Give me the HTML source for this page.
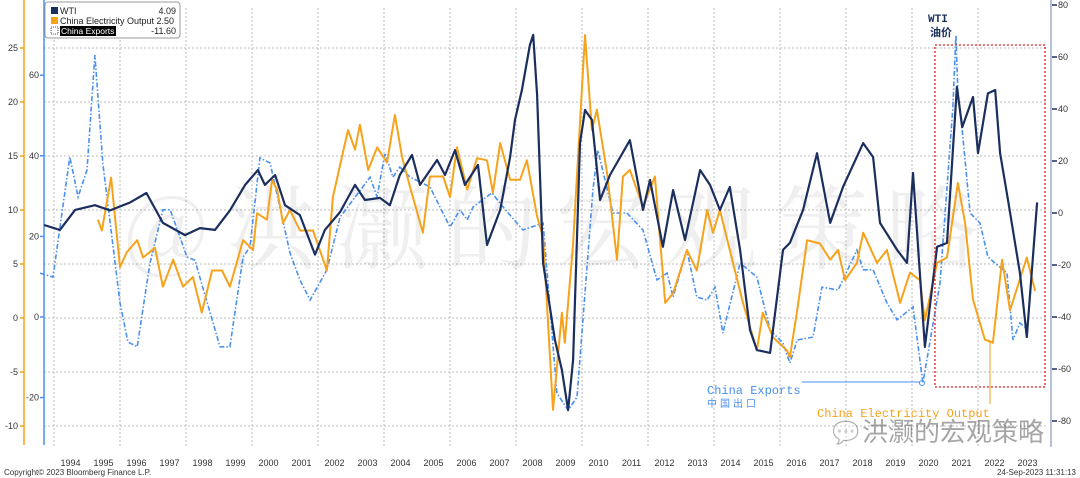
<!DOCTYPE html>
<html><head><meta charset="utf-8"><style>
body{margin:0;background:#fff;}
svg{display:block;font-family:"Liberation Sans","Noto Sans CJK SC",sans-serif;}
</style></head><body>
<svg id="c" width="1080" height="478" viewBox="0 0 1080 478">
<g id="grid"></g>
<text x="560" y="262" text-anchor="middle" font-size="92" fill="#000" opacity="0.06" font-family="'Noto Serif CJK SC',serif" letter-spacing="18">@洪灏的宏观策略</text>
<g id="axes"></g>
<g id="series"></g>
<rect x="935" y="45" width="110" height="342" fill="none" stroke="#e02020" stroke-width="1.3" stroke-dasharray="2,2"/>
<text x="928" y="22" font-size="11" font-weight="bold" fill="#1b2f5e" font-family="'Liberation Mono',monospace">WTI</text>
<text x="930" y="36" font-size="11" font-weight="bold" fill="#1b2f5e" font-family="'Noto Sans CJK SC',sans-serif">油价</text>
<line x1="802" y1="382" x2="920" y2="382" stroke="#4a90f0" stroke-width="1"/>
<circle cx="922" cy="383" r="2.5" fill="none" stroke="#4a90f0"/>
<text x="707" y="394" font-size="12" fill="#4a90f0" font-family="'Liberation Mono',monospace">China Exports</text>
<text x="707" y="407" font-size="10" fill="#4a90f0" font-family="'Noto Sans CJK SC',sans-serif" letter-spacing="3">中国出口</text>
<line x1="990" y1="340" x2="990" y2="404" stroke="#f7a21b" stroke-width="1"/>
<text x="817" y="417" font-size="12" fill="#f7a21b" font-family="'Liberation Mono',monospace">China Electricity Output</text>
<text x="862" y="441" font-size="26" fill="#000" opacity="0.35" font-family="'Noto Sans CJK SC',sans-serif">洪灏的宏观策略</text>
<text x="832" y="440" font-size="22" fill="#000" opacity="0.3">💬</text>
<g>
<rect x="45" y="2" width="135" height="36" rx="3" fill="#fff" stroke="#999"/>
<rect x="51" y="7" width="7" height="7" fill="#1b2f5e"/>
<text x="60" y="14" font-size="9" fill="#222">WTI</text>
<text x="176" y="14" font-size="9" fill="#222" text-anchor="end">4.09</text>
<rect x="51" y="17" width="7" height="7" fill="#f7a21b"/>
<text x="60" y="24" font-size="9" fill="#222">China Electricity Output 2.50</text>
<rect x="51" y="27" width="7" height="7" fill="#fff" stroke="#555" stroke-dasharray="1,1"/>
<rect x="60" y="26" width="56" height="10" fill="#000"/>
<text x="61" y="34" font-size="8.5" fill="#fff">China Exports</text>
<text x="176" y="34" font-size="9" fill="#222" text-anchor="end">-11.60</text>
</g>
<text x="4" y="475" font-size="8" fill="#333">Copyright© 2023 Bloomberg Finance L.P.</text>
<text x="1076" y="475" font-size="8" fill="#333" text-anchor="end">24-Sep-2023 11:31:13</text>
</svg>
<script>
const years=[1994,1995,1996,1997,1998,1999,2000,2001,2002,2003,2004,2005,2006,2007,2008,2009,2010,2011,2012,2013,2014,2015,2016,2017,2018,2019,2020,2021,2022,2023];
const leftTicks=[25,20,15,10,5,0,-5,-10];
const blueTicks=[60,40,20,0,-20];
const rightTicks=[80,60,40,20,0,-20,-40,-60,-80];
const wtiDates=[1993.7,1994.18,1994.64,1995.24,1995.7,1996.3,1996.8,1997.3,1997.97,1998.42,1998.88,1999.33,1999.79,2000.18,2000.39,2000.7,2001.0,2001.45,2001.91,2002.21,2002.67,2003.12,2003.42,2003.88,2004.18,2004.48,2004.85,2005.09,2005.61,2005.85,2006.15,2006.45,2006.85,2007.12,2007.52,2007.82,2007.97,2008.18,2008.42,2008.52,2008.64,2008.82,2009.18,2009.39,2009.58,2009.73,2009.94,2010.09,2010.3,2010.55,2010.85,2011.45,2011.85,2012.06,2012.45,2012.76,2013.12,2013.58,2013.88,2014.18,2014.48,2014.79,2015.09,2015.3,2015.7,2016.09,2016.3,2016.7,2017.12,2017.52,2017.91,2018.52,2018.82,2019.03,2019.55,2019.85,2020.03,2020.39,2020.76,2021.06,2021.36,2021.52,2021.85,2022.0,2022.3,2022.52,2022.67,2022.91,2023.27,2023.48,2023.79];
const wtiValues=[-4.6,-6.5,1.2,3,1,4,7.7,-3.8,-8.5,-5.8,-6.5,1,10.8,16.5,10.8,14.6,3,-0.8,-16,-6.5,0.4,10.8,5,5.8,3,14.6,22.3,10.8,20.4,14.6,24.2,10.8,18.5,-12.3,1.2,21.5,35.8,47.3,64.6,68.5,45.4,-19.2,-48.8,-60.4,-75.8,-56.5,26.9,39.6,35.8,5,14.6,28,1.2,12.7,-13,8.8,-10.4,16.5,10.8,1.2,10,-14.2,-45,-52.7,-53.8,-14.2,-11.5,1.2,23,-3.8,10,26.9,21.5,-3.8,-14.2,-19.2,15.4,-51.5,-13,-11.5,48.5,33,44.6,23,46,47.3,23,5,-23,-47.7,4.09];
const elecDates=[1995.33,1995.45,1995.73,1996.0,1996.21,1996.52,1996.7,1997.06,1997.3,1997.61,1997.91,1998.21,1998.48,1998.79,1999.09,1999.33,1999.73,2000.03,2000.15,2000.45,2000.61,2000.76,2000.94,2001.15,2001.45,2001.85,2002.27,2002.45,2002.91,2003.12,2003.27,2003.52,2003.79,2004.09,2004.33,2004.55,2004.79,2005.18,2005.39,2005.79,2006.0,2006.21,2006.52,2006.82,2007.12,2007.3,2007.52,2007.82,2008.12,2008.33,2008.64,2008.82,2009.12,2009.39,2009.48,2009.73,2010.09,2010.3,2010.45,2010.76,2011.06,2011.24,2011.45,2011.85,2012.21,2012.52,2012.76,2013.18,2013.48,2013.79,2013.97,2014.18,2014.48,2014.88,2015.3,2015.48,2015.79,2016.21,2016.3,2016.52,2016.82,2017.21,2017.52,2017.76,2017.97,2018.33,2018.52,2018.94,2019.24,2019.64,2019.94,2020.24,2020.39,2020.76,2021.06,2021.39,2021.61,2021.85,2022.21,2022.45,2022.73,2022.97,2023.48,2023.73];
const elecValues=[9.1,8.1,13.0,4.7,6.1,7.2,5.6,6.5,2.9,5.4,2.9,3.8,0.5,4.4,4.4,2.9,7.2,6.3,9.7,9.1,12.8,11.9,8.8,10.0,8.1,8.1,4.4,11.2,17.4,15.6,17.9,13.7,15.8,14.4,18.8,14.9,12.1,7.9,13.1,13.1,11.2,15.8,11.9,14.8,14.6,11.6,16.2,12.8,12.8,14.6,9.4,7.5,-8.5,0.5,-2.3,6.9,26.2,17.4,19.3,13.4,5.4,13.1,13.7,10.3,13.1,1.4,2.3,6.3,4.4,10.0,7.9,10.0,6.3,1.4,-3.0,0.5,-1.8,-3.0,-3.6,0.7,7.2,6.9,5.4,6.3,3.5,5.1,7.9,5.1,6.3,1.4,4.2,3.5,-0.2,5.1,5.6,12.5,8.8,1.7,-2.0,-2.3,5.4,0.7,5.6,2.5];
const expDates=[1993.58,1993.97,1994.48,1994.73,1995.0,1995.24,1995.48,1996.0,1996.24,1996.52,1996.91,1997.3,1997.52,1998.03,1998.27,1999.03,1999.33,1999.73,1999.94,2000.24,2000.55,2001.15,2001.45,2001.76,2002.27,2002.67,2003.58,2003.79,2004.03,2004.27,2004.48,2004.79,2005.39,2006.0,2006.3,2006.52,2006.7,2007.27,2007.61,2008.21,2008.82,2009.24,2009.58,2009.85,2010.33,2010.48,2010.94,2011.36,2011.85,2012.27,2012.58,2012.76,2013.18,2013.48,2013.79,2014.03,2014.27,2014.79,2015.3,2015.7,2016.09,2016.3,2016.52,2017.0,2017.27,2017.76,2018.33,2018.52,2018.82,2019.24,2019.55,2020.03,2020.33,2020.85,2021.24,2021.33,2021.39,2021.52,2021.76,2022.06,2022.3,2022.88,2023.06,2023.27,2023.52];
const expValues=[10.9,9.9,39.7,29.8,36.5,65,38.2,3.5,-6.2,-7.4,13.4,26.6,26.6,14.9,14.1,-7.4,-7.4,14.9,17.4,39.5,38.2,15.9,9.2,4.2,11.7,24.8,34.7,29.8,40.7,34.7,37.2,34.7,32.3,22.3,26.6,24.1,27.3,30.8,27.3,21.6,23.3,-18.9,-23.1,-19.9,31.5,41.4,25.8,25.8,21.6,9.2,10.9,5.0,16.6,5.0,4.2,7.4,-4.0,13.4,9.9,-3.2,-6.5,-11.4,-5.7,-5.0,7.4,6.7,16.6,11.7,11.7,3.5,-0.7,2.5,-16.4,8.4,52.1,70,55.6,46.4,25.8,23.3,14.9,10.9,-5.7,-1.5,-3.2];

const NS='http://www.w3.org/2000/svg';
const X=d=>54+(d-1994)*33;
const YL=v=>318-v*10.8;
const YB=v=>317-v*4.03;
const YR=v=>213-v*2.6;
function mk(tag,attrs,parent){const e=document.createElementNS(NS,tag);for(const k in attrs)e.setAttribute(k,attrs[k]);parent.appendChild(e);return e;}
const grid=document.getElementById('grid'),axes=document.getElementById('axes'),series=document.getElementById('series');
leftTicks.forEach(t=>{const l=mk('line',{x1:44,x2:1047,y1:YL(t),y2:YL(t),stroke:'#bbb','stroke-width':1,'stroke-dasharray':'2,2'},grid);

});
years.forEach((y,i)=>{if(i%2===0){const l=mk('line',{x1:X(y),x2:X(y),y1:8,y2:448,stroke:'#bbb','stroke-width':1,'stroke-dasharray':'2,2'},grid);

}
const t=mk('text',{x:X(y)+16.5,y:466,'font-size':9,'text-anchor':'middle',fill:'#333'},axes);t.textContent=y;

});
let a=mk('line',{x1:24,x2:24,y1:0,y2:445,stroke:'#f7a21b','stroke-width':1.5},axes);


leftTicks.forEach(t=>{mk('line',{x1:20,x2:24,y1:YL(t),y2:YL(t),stroke:'#f7a21b','stroke-width':1.5},axes);
const tx=mk('text',{x:18,y:YL(t)+3,'font-size':9,'text-anchor':'end',fill:'#333'},axes);tx.textContent=t;

});
a=mk('line',{x1:44,x2:44,y1:0,y2:445,stroke:'#4a90f0','stroke-width':1.5},axes);


blueTicks.forEach(t=>{mk('line',{x1:40,x2:44,y1:YB(t),y2:YB(t),stroke:'#4a90f0','stroke-width':1.5},axes);
const tx=mk('text',{x:39,y:YB(t)+3,'font-size':9,'text-anchor':'end',fill:'#333'},axes);tx.textContent=t;

});
a=mk('line',{x1:1051,x2:1051,y1:0,y2:447,stroke:'#b8c2d6','stroke-width':2},axes);


rightTicks.forEach(t=>{mk('line',{x1:1052,x2:1057,y1:YR(t),y2:YR(t),stroke:'#1b2f5e','stroke-width':1.5},axes);
const tx=mk('text',{x:1058,y:YR(t)+3,'font-size':9,fill:'#333'},axes);tx.textContent=t;

});
function path(ds,vs,yf){return ds.map((d,i)=>(i?'L':'M')+X(d).toFixed(1)+','+yf(vs[i]).toFixed(1)).join(' ');}
let p=mk('path',{d:path(expDates,expValues,YB),fill:'none',stroke:'#4a90f0','stroke-width':1.6,'stroke-dasharray':'5,2,1.5,2'},series);


p=mk('path',{d:path(elecDates,elecValues,YL),fill:'none',stroke:'#f7a21b','stroke-width':2,'stroke-linejoin':'round'},series);


p=mk('path',{d:path(wtiDates,wtiValues,YR),fill:'none',stroke:'#1b2f5e','stroke-width':2.2,'stroke-linejoin':'round'},series);


</script>
</body></html>
